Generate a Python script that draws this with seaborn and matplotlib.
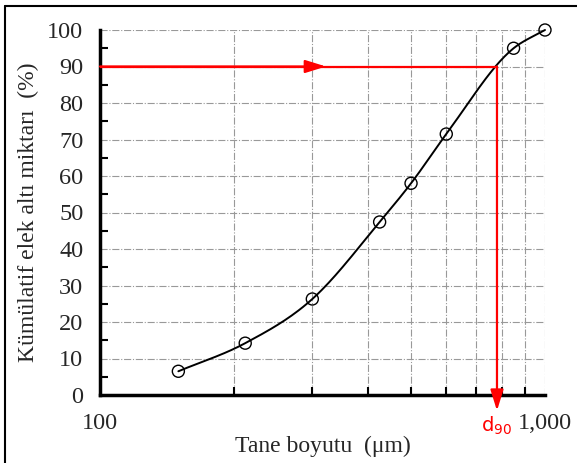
import numpy as np
import matplotlib
matplotlib.use("Agg")
import matplotlib.pyplot as plt
import matplotlib.ticker as mticker
from matplotlib.lines import Line2D
import seaborn as sns

# sieve data
sizes = [150, 212, 300, 425, 500, 600, 850, 1000]
passing = [6.5, 14.2, 26.3, 47.4, 58.0, 71.5, 95.0, 100.0]
d90 = 780
x_ticklabels = ["100", "1,000"]

sns.set_style("white")
plt.rcParams["font.family"] = ["Liberation Serif", "DejaVu Serif"]
plt.rcParams["mathtext.fontset"] = "dejavusans"


def smooth(xs, ys, n=30):
    # cubic Hermite curve in (log x, y) with averaged-secant slopes
    lx = np.log10(xs)
    y = np.asarray(ys, float)
    h = np.diff(lx)
    d = np.diff(y) / h
    m = np.empty_like(y)
    m[0], m[-1] = d[0], d[-1]
    m[1:-1] = (h[1:] * d[:-1] + h[:-1] * d[1:]) / (h[:-1] + h[1:])
    outx, outy = [], []
    t = np.linspace(0, 1, n)
    for i in range(len(h)):
        h00 = 2 * t ** 3 - 3 * t ** 2 + 1
        h10 = t ** 3 - 2 * t ** 2 + t
        h01 = -2 * t ** 3 + 3 * t ** 2
        h11 = t ** 3 - t ** 2
        outx.extend(lx[i] + t * h[i])
        outy.extend(h00 * y[i] + h10 * h[i] * m[i] + h01 * y[i + 1] + h11 * h[i] * m[i + 1])
    return 10 ** np.array(outx), np.array(outy)


fig = plt.figure(figsize=(5.77, 4.63), dpi=100)
ax = fig.add_axes([100 / 577, 68 / 463, 445 / 577, 365 / 463])

sx, sy = smooth(sizes, passing)
sns.lineplot(x=sx, y=sy, ax=ax, color="black", lw=1.4, sort=False, estimator=None,
             clip_on=False)
sns.scatterplot(x=sizes, y=passing, ax=ax, marker="o", s=75, facecolor="none",
                edgecolor="black", linewidth=1.0, zorder=5, clip_on=False)

ax.set_xscale("log")
ax.set_xlim(100, 1000)
ax.set_ylim(0, 100)

ax.set_xticks([100, 1000])
ax.set_xticklabels(x_ticklabels)
ax.xaxis.set_minor_locator(mticker.FixedLocator(np.arange(200, 1000, 100)))
ax.xaxis.set_minor_formatter(mticker.NullFormatter())
ax.set_yticks(np.arange(0, 101, 10))
ax.yaxis.set_minor_locator(mticker.MultipleLocator(5))

ax.tick_params(axis="both", which="major", direction="inout", length=12, width=2,
               color="black", labelsize=17.5)
ax.tick_params(axis="x", which="major", pad=7)
ax.tick_params(axis="y", which="major", pad=6)
ax.tick_params(axis="both", which="minor", direction="in", length=6, width=1.5,
               color="black", bottom=True, left=True)

ax.grid(True, axis="x", which="both", color="#999999", linestyle="-.", lw=0.8)
ax.grid(True, axis="y", which="major", color="#999999", linestyle="-.", lw=0.8)
ax.set_axisbelow(True)
for side in ["top", "right"]:
    ax.spines[side].set_visible(False)
for side in ["left", "bottom"]:
    ax.spines[side].set_linewidth(2.5)
    ax.spines[side].set_color("black")

# d90 construction lines
head = "-|>,head_length=0.9,head_width=0.28"
ax.plot([100, d90], [90, 90], color="red", lw=1.6, zorder=4)
ax.annotate("", xy=(322, 90), xytext=(100, 90),
            arrowprops=dict(arrowstyle=head, color="red", lw=1.6, mutation_scale=14,
                            shrinkA=0, shrinkB=0))
ax.annotate("", xy=(d90, -4.3), xytext=(d90, 90), annotation_clip=False,
            arrowprops=dict(arrowstyle=head, color="red", lw=1.6, mutation_scale=14,
                            shrinkA=0, shrinkB=0))
ax.text(d90, -5.3, r"d$_{90}$", color="red", ha="center", va="top",
        fontsize=14, family="DejaVu Sans")

ax.set_xlabel("Tane boyutu  (\u03bcm)", fontsize=17, labelpad=1)
ax.set_ylabel("K\u00fcm\u00fclatif elek alt\u0131 miktar\u0131  (%)", fontsize=17, labelpad=6)

# frame around the figure
fig.add_artist(Line2D([5 / 577, 1], [1 - 6 / 463] * 2, color="black", lw=1.5,
                      transform=fig.transFigure))
fig.add_artist(Line2D([5 / 577] * 2, [0, 1 - 6 / 463], color="black", lw=1.5,
                      transform=fig.transFigure))

fig.savefig("out.png", dpi=100)
